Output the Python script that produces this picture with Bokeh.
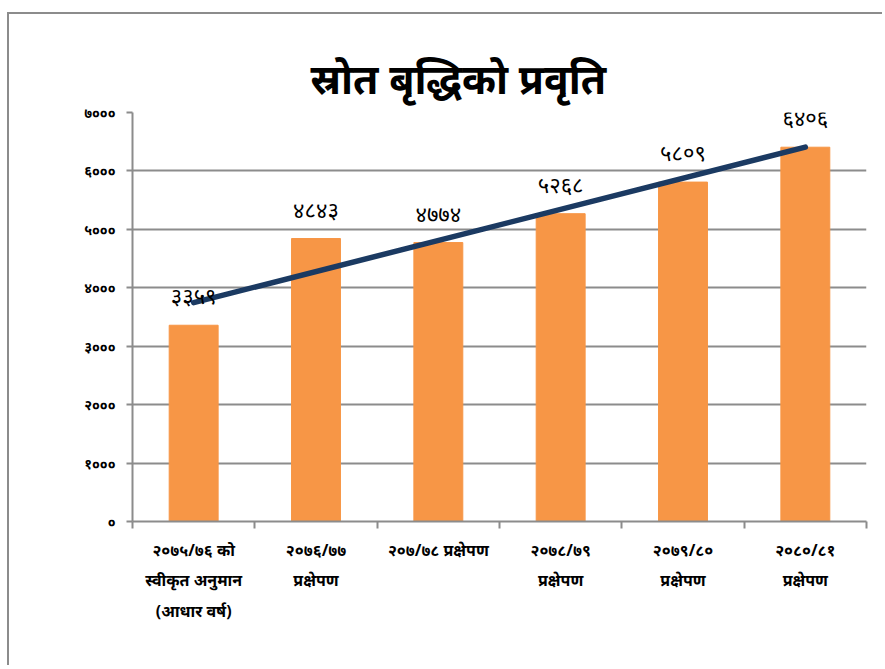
import numpy as np
from bokeh.plotting import figure
from bokeh.models import FixedTicker, Range1d, ColumnDataSource
from bokeh.embed import file_html
from bokeh.resources import INLINE

title_text = "स्रोत बृद्धिको प्रवृति"
categories = [
    "२०७५/७६ को\nस्वीकृत अनुमान\n(आधार वर्ष)",
    "२०७६/७७\nप्रक्षेपण",
    "२०७/७८ प्रक्षेपण",
    "२०७८/७९\nप्रक्षेपण",
    "२०७९/८०\nप्रक्षेपण",
    "२०८०/८१\nप्रक्षेपण",
]
values = [3359, 4843, 4774, 5268, 5809, 6406]
y_ticks = [0, 1000, 2000, 3000, 4000, 5000, 6000, 7000]
y_tick_labels = ["०", "१०००", "२०००", "३०००", "४०००", "५०००", "६०००", "७०००"]

DEV = str.maketrans("0123456789", "०१२३४५६७८९")
value_labels = [str(v).translate(DEV) for v in values]

FONT = "Noto Sans"
BAR = "#F79646"
LINE = "#1B3A62"
GRID = "#8C8C8C"

x = [i + 0.5 for i in range(len(values))]

p = figure(width=875, height=653, output_backend="svg", toolbar_location=None,
           x_range=Range1d(0, len(values)), y_range=Range1d(0, 7000),
           min_border_left=123, min_border_right=18, min_border_top=98,
           min_border_bottom=146,
           styles={"border-left": "2px solid #8C8C8C", "border-top": "2px solid #8C8C8C",
                   "margin-top": "12px", "margin-left": "7px"})
p.outline_line_color = None
p.background_fill_color = "white"
p.border_fill_color = "white"

p.title.text = title_text
p.title.text_font = FONT
p.title.text_font_size = "41px"
p.title.text_font_style = "bold"
p.title.text_color = "black"
p.title.align = "left"
p.title.offset = 178
p.title.standoff = 14

src = ColumnDataSource(dict(x=x, top=values, lab=value_labels))
p.vbar(x="x", top="top", width=0.4, bottom=0, source=src, color=BAR)

coef = np.polyfit(np.array(x), np.array(values, dtype=float), 1)
tx = [x[0], x[-1]]
ty = [float(np.polyval(coef, t)) for t in tx]
p.line(tx, ty, line_color=LINE, line_width=5.5, line_cap="round")

p.text(x="x", y="top", text="lab", source=src, text_align="center",
       text_baseline="bottom", y_offset=-15, text_font_size="22px",
       text_color="black", text_font={"value": FONT})

# y axis
p.yaxis.ticker = FixedTicker(ticks=y_ticks)
p.yaxis.major_label_overrides = {t: l for t, l in zip(y_ticks, y_tick_labels)}
p.yaxis.major_label_text_font = FONT
p.yaxis.major_label_text_font_size = "14px"
p.yaxis.major_label_text_font_style = "bold"
p.yaxis.major_label_text_color = "black"
p.yaxis.major_label_standoff = 11
p.yaxis.axis_line_color = GRID
p.yaxis.axis_line_width = 2
p.yaxis.major_tick_line_color = GRID
p.yaxis.major_tick_line_width = 2
p.yaxis.major_tick_out = 6
p.yaxis.major_tick_in = 0
p.yaxis.minor_tick_line_color = None

# x axis: labels at centres, ticks at boundaries
p.xaxis.ticker = FixedTicker(ticks=x, minor_ticks=list(range(len(values) + 1)))
p.xaxis.major_label_overrides = {t: c for t, c in zip(x, categories)}
p.xaxis.major_label_text_font = FONT
p.xaxis.major_label_text_font_size = "16px"
p.xaxis.major_label_text_font_style = "bold"
p.xaxis.major_label_text_color = "black"
p.xaxis.major_label_text_line_height = 1.4
p.xaxis.major_label_standoff = 10
p.xaxis.axis_line_color = GRID
p.xaxis.axis_line_width = 2
p.xaxis.major_tick_line_color = None
p.xaxis.minor_tick_line_color = GRID
p.xaxis.minor_tick_line_width = 2
p.xaxis.minor_tick_out = 7
p.xaxis.minor_tick_in = 0

p.xgrid.grid_line_color = None
p.ygrid.grid_line_color = GRID
p.ygrid.grid_line_width = 2

open("out.html", "w").write(file_html(p, INLINE))
